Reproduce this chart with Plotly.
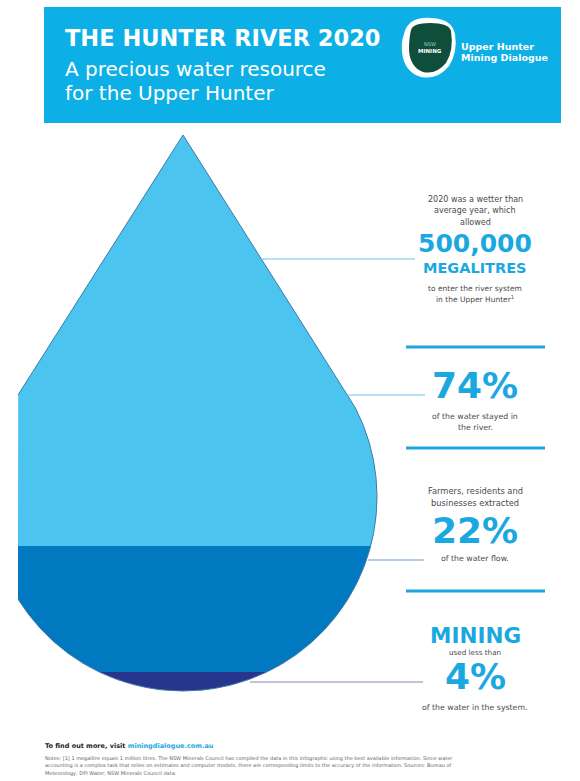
import numpy as np
import plotly.graph_objects as go

# ---------------- data ----------------
year = 2020
inflow_megalitres = 500000
categories = ["Stayed in the river", "Extracted by farmers, residents and businesses", "Used by mining"]
shares = [74, 22, 4]

# ---------------- styles / layout constants ----------------
W, H = 580, 781
band_colors = ["#4BC5F0", "#0079C1", "#27358C"]
CYAN = "#1BA8E0"
HEADER = "#0DB0E6"
GREY = "#4a4a4a"
FONT = "DejaVu Sans"

# drop geometry in page pixels
TIP_X, TIP_Y = 183, 135
CY, R = 497, 194
CLIP_X = 18
band_edges = [135, 546, 672, 691]

d = CY - TIP_Y
cos_phi = R / d
y_t = CY - R * cos_phi
w_t = R * np.sqrt(1 - cos_phi ** 2)


def half_width(y):
    y = np.asarray(y, dtype=float)
    cone = (y - TIP_Y) * w_t / (y_t - TIP_Y)
    circ = np.sqrt(np.clip(R ** 2 - (y - CY) ** 2, 0, None))
    return np.where(y < y_t, cone, circ)


fig = go.Figure()

# drop bands (one per category)
for i, (cat, sh) in enumerate(zip(categories, shares)):
    ys = np.linspace(band_edges[i], band_edges[i + 1], 240)
    w = half_width(ys)
    right = TIP_X + w
    left = np.maximum(TIP_X - w, CLIP_X)
    fig.add_trace(go.Scatter(
        x=np.concatenate([right, left[::-1]]),
        y=np.concatenate([ys, ys[::-1]]),
        fill="toself", fillcolor=band_colors[i], mode="lines",
        line=dict(width=0, color=band_colors[i]), name=f"{cat} ({sh}%)",
        hoverinfo="skip"))

# drop outline
ys = np.linspace(band_edges[0], band_edges[-1], 600)
w = half_width(ys)
rx = TIP_X + w
lx = TIP_X - w
lx = np.where(lx < CLIP_X, np.nan, lx)
fig.add_trace(go.Scatter(x=np.concatenate([rx, [np.nan], lx]),
                         y=np.concatenate([ys, [np.nan], ys]),
                         mode="lines", line=dict(width=1, color="#3F79A8"),
                         hoverinfo="skip", showlegend=False))

shapes = []
# header box
shapes.append(dict(type="rect", xref="x", yref="y", x0=44, x1=561, y0=7, y1=123,
                   fillcolor=HEADER, line=dict(width=0), layer="below"))
# logo
shapes.append(dict(type="path", xref="x", yref="y",
                   path="M 404 34 Q 408 16 432 18 Q 452 19 455 34 Q 458 52 449 66 Q 438 80 421 77 Q 404 72 402 52 Q 401 42 404 34 Z",
                   fillcolor="white", line=dict(width=0)))
shapes.append(dict(type="path", xref="x", yref="y",
                   path="M 411 30 Q 413 23 430 23 Q 449 23 451 31 Q 454 50 446 63 Q 436 75 423 72 Q 410 67 409 50 Q 409 38 411 30 Z",
                   fillcolor="#0E4E3B", line=dict(width=0)))

# separators
for y in [347, 448, 591]:
    shapes.append(dict(type="line", xref="x", yref="y", x0=406, x1=545, y0=y, y1=y,
                       line=dict(color="#1DA5DF", width=3)))
# connector lines
for (x0, x1, y, col) in [(261, 415, 259, "#6CC6EE"), (347, 425, 395, "#6CC6EE"),
                         (368, 424, 560, "#6C9CC8"), (250, 423, 682, "#7F8BB8")]:
    shapes.append(dict(type="line", xref="x", yref="y", x0=x0, x1=x1, y0=y, y1=y,
                       line=dict(color=col, width=1.2)))

ann = []


def txt(x, y, s, size, color=GREY, bold=False, anchor="center"):
    ann.append(dict(x=x, y=y, xref="x", yref="y", text=s, showarrow=False,
                    xanchor=anchor, yanchor="middle",
                    font=dict(family=FONT, size=size, color=color,
                              weight=700 if bold else 400)))


# header texts
txt(63, 38, f"THE HUNTER RIVER {year}", 22.5, "white", True, "left")
txt(63, 69, "A precious water resource", 20, "white", False, "left")
txt(63, 93, "for the Upper Hunter", 20, "white", False, "left")
txt(459, 46, "Upper Hunter", 9.5, "white", True, "left")
txt(459, 57, "Mining Dialogue", 9.5, "white", True, "left")
txt(430, 44, "NSW", 5, "#9fd9c0", False)
txt(430, 51, "MINING", 5.5, "white", True)

CX = 475
txt(CX, 199, f"{year} was a wetter than", 8)
txt(CX, 210.5, "average year, which", 8)
txt(CX, 222, "allowed", 8)
txt(CX, 243, f"{inflow_megalitres:,}", 25, CYAN, True)
txt(CX, 268, "MEGALITRES", 14.5, CYAN, True)
txt(CX, 288, "to enter the river system", 7.5)
txt(CX, 299, "in the Upper Hunter<sup>1</sup>", 7.5)

txt(CX, 385, f"{shares[0]}%", 36, CYAN, True)
txt(CX, 416, "of the water stayed in", 7.8)
txt(CX, 427, "the river.", 7.8)

txt(CX, 491, "Farmers, residents and", 8.3)
txt(CX, 502.5, "businesses extracted", 8.3)
txt(CX, 530, f"{shares[1]}%", 36, CYAN, True)
txt(CX, 558, "of the water flow.", 7.8)

txt(CX, 635, "MINING", 21.5, CYAN, True)
txt(CX, 652, "used less than", 7.2)
txt(CX, 676, f"{shares[2]}%", 36, CYAN, True)
txt(CX, 707, "of the water in the system.", 7.8)

# footer
txt(43, 746, "To find out more, visit <span style='color:#1BA8E0'>miningdialogue.com.au</span>",
    6.5, "#222", True, "left")
txt(43, 758, "Notes: [1] 1 megalitre equals 1 million litres. The NSW Minerals Council has compiled the data in this infographic using the best available information. Since water",
    5, "#666", False, "left")
txt(43, 765.5, "accounting is a complex task that relies on estimates and computer models, there are corresponding limits to the accuracy of the information. Sources: Bureau of",
    5, "#666", False, "left")
txt(43, 773, "Meteorology; DPI Water; NSW Minerals Council data.", 5, "#666", False, "left")

fig.update_layout(
    width=W, height=H, margin=dict(l=0, r=0, t=0, b=0),
    paper_bgcolor="white", plot_bgcolor="white", showlegend=False,
    xaxis=dict(range=[0, W], visible=False, fixedrange=True),
    yaxis=dict(range=[H, 0], visible=False, fixedrange=True),
    shapes=shapes, annotations=ann,
)

fig.write_html("out.html", config={"displayModeBar": False},
               post_script="document.body.style.margin='0';document.body.style.overflow='hidden';")
